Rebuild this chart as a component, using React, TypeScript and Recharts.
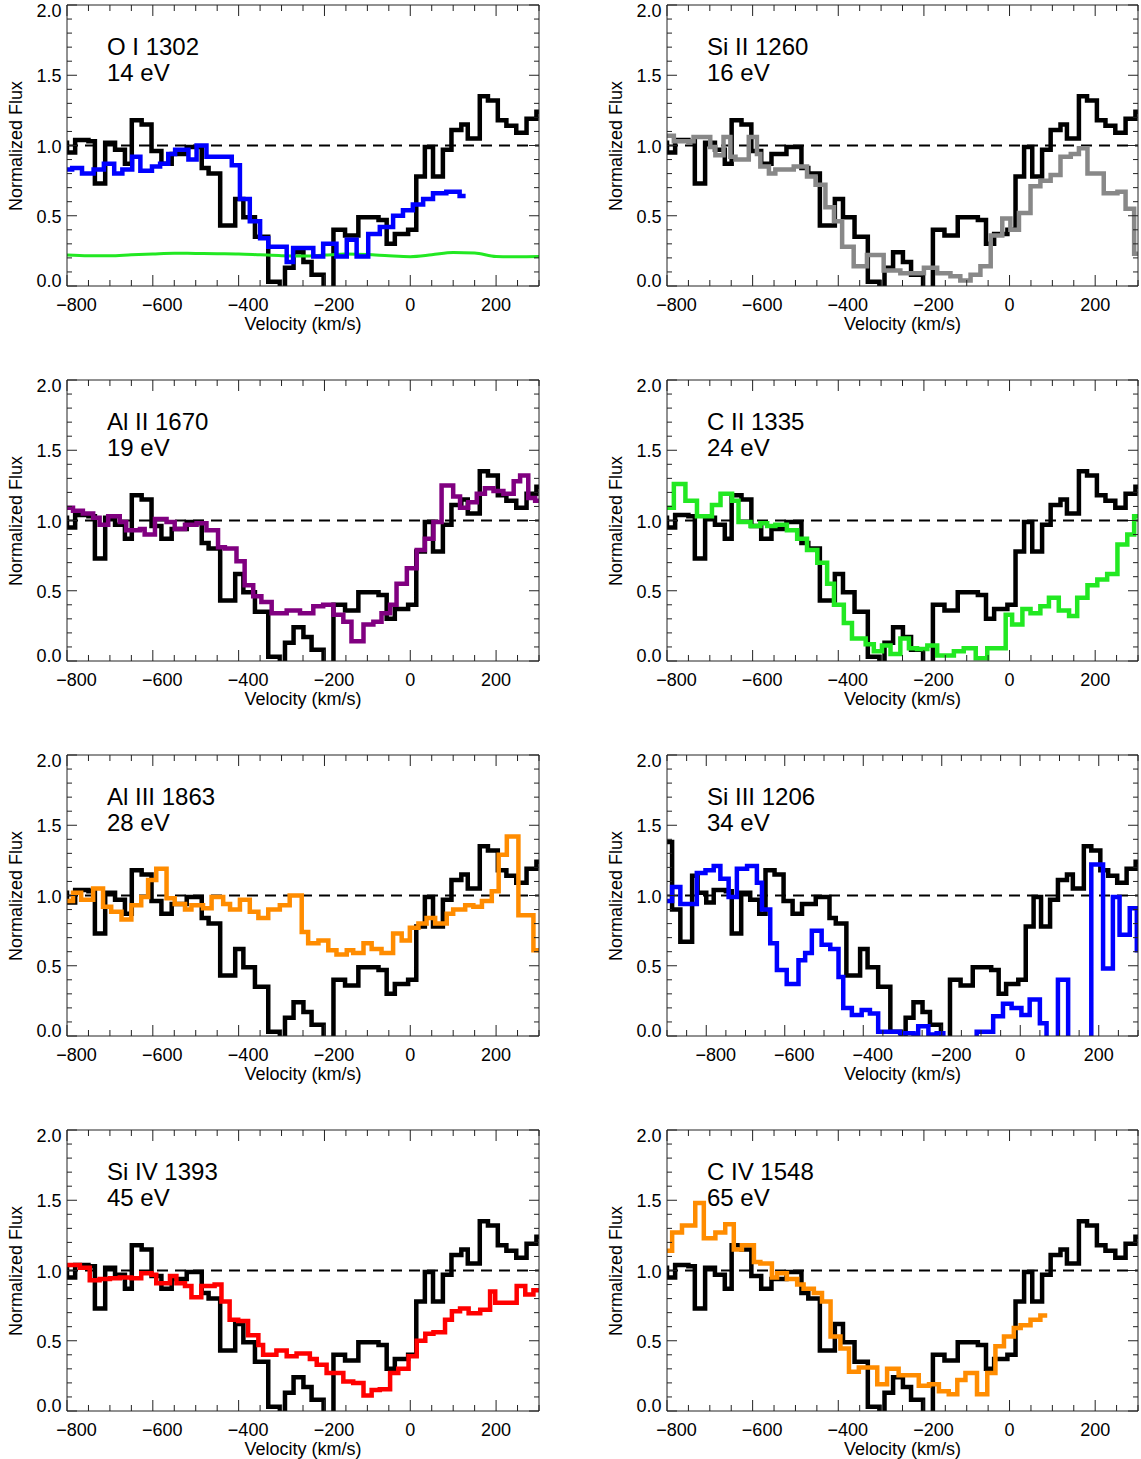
import React from "react";
import { LineChart, Line, XAxis, YAxis, ReferenceLine } from "recharts";

// comparison spectrum (black), drawn in every panel: left bin edge (km/s) and flux
const REF_V = [-900, -887, -866, -836, -822, -800, -781, -750, -735, -711, -688, -665, -649, -626, -603, -580, -556, -521, -486, -470, -443, -408, -389, -362, -331, -304, -292, -272, -249, -230, -202, -179, -152, -121, -74, -55, -36, -5, 14, 34, 53, 76, 96, 119, 134, 162, 181, 204, 224, 247, 271, 294, 300];
const REF_F = [1.38, 0.9, 0.67, 1.14, 1.02, 0.95, 1.04, 1.03, 0.73, 1.02, 0.97, 0.87, 1.18, 1.15, 0.96, 0.87, 0.94, 0.99, 0.84, 0.8, 0.43, 0.62, 0.49, 0.35, 0.03, -0.05, 0.13, 0.24, 0.17, 0.08, -0.05, 0.4, 0.36, 0.49, 0.47, 0.3, 0.37, 0.4, 0.78, 0.99, 0.78, 0.97, 1.11, 1.15, 1.05, 1.35, 1.32, 1.18, 1.14, 1.09, 1.19, 1.24, 1.24];

// O I 1302
const OI_V = [-800, -788, -765, -738, -714, -690, -671, -648, -629, -602, -583, -564, -548, -517, -498, -475, -416, -397, -374, -350, -331, -288, -273, -226, -203, -172, -148, -125, -98, -71, -40, -17, 6, 30, 53, 84, 115, 129];
const OI_F = [0.83, 0.84, 0.8, 0.83, 0.87, 0.8, 0.83, 0.92, 0.82, 0.85, 0.87, 0.94, 0.97, 0.9, 1.0, 0.92, 0.86, 0.62, 0.46, 0.34, 0.28, 0.17, 0.27, 0.21, 0.3, 0.21, 0.33, 0.21, 0.37, 0.42, 0.5, 0.54, 0.58, 0.62, 0.66, 0.67, 0.64, 0.64];
// O I error / sky level (green)
const OI_ERR_V = [-800, -750, -700, -650, -600, -550, -500, -450, -400, -350, -300, -250, -200, -150, -100, -50, 0, 50, 100, 150, 200, 250, 300];
const OI_ERR_F = [0.22, 0.215, 0.215, 0.222, 0.228, 0.233, 0.232, 0.23, 0.228, 0.222, 0.216, 0.214, 0.22, 0.227, 0.224, 0.215, 0.209, 0.222, 0.238, 0.235, 0.21, 0.208, 0.21];

// Si II 1260
const SI2_V = [-800, -784, -738, -699, -687, -668, -652, -640, -609, -590, -582, -562, -547, -504, -473, -453, -430, -410, -391, -364, -333, -294, -255, -200, -169, -138, -115, -91, -68, -44, -17, 2, 22, 49, 72, 96, 119, 143, 162, 182, 220, 252, 271, 291, 300];
const SI2_F = [1.07, 1.03, 1.06, 0.99, 0.93, 1.06, 0.92, 0.9, 1.06, 0.94, 0.85, 0.8, 0.83, 0.85, 0.78, 0.72, 0.56, 0.46, 0.28, 0.14, 0.22, 0.11, 0.09, 0.13, 0.09, 0.07, 0.04, 0.08, 0.14, 0.36, 0.48, 0.4, 0.52, 0.71, 0.75, 0.79, 0.92, 0.94, 0.98, 0.8, 0.66, 0.67, 0.55, 0.23, 0.23];

// Al II 1670
const AL2_V = [-800, -786, -763, -739, -724, -704, -677, -662, -630, -619, -595, -568, -549, -525, -498, -475, -448, -432, -405, -386, -366, -347, -323, -288, -257, -226, -203, -179, -156, -137, -109, -86, -67, -47, -32, -8, 15, 34, 54, 73, 100, 116, 135, 155, 174, 194, 217, 241, 256, 275, 291, 300];
const AL2_F = [1.09, 1.07, 1.05, 1.02, 0.97, 1.03, 0.99, 0.93, 0.94, 0.9, 1.01, 0.99, 0.94, 0.97, 0.98, 0.93, 0.81, 0.8, 0.71, 0.54, 0.46, 0.42, 0.34, 0.36, 0.34, 0.39, 0.4, 0.33, 0.28, 0.14, 0.26, 0.28, 0.34, 0.4, 0.55, 0.66, 0.79, 0.87, 0.99, 1.25, 1.17, 1.09, 1.13, 1.19, 1.23, 1.21, 1.19, 1.28, 1.32, 1.16, 1.14, 1.14];

// C II 1335
const C2_V = [-800, -784, -757, -730, -695, -675, -648, -633, -605, -582, -566, -547, -520, -496, -473, -449, -426, -410, -387, -368, -336, -317, -298, -278, -255, -235, -216, -192, -169, -130, -107, -79, -52, -9, 6, 30, 49, 72, 92, 115, 139, 158, 182, 205, 228, 252, 275, 291, 300];
const C2_F = [1.09, 1.26, 1.14, 1.03, 1.11, 1.19, 1.14, 0.99, 0.96, 0.98, 0.96, 0.97, 0.93, 0.87, 0.79, 0.7, 0.55, 0.4, 0.27, 0.16, 0.12, 0.07, 0.11, 0.05, 0.16, 0.09, 0.085, 0.11, 0.04, 0.07, 0.09, 0.02, 0.09, 0.33, 0.26, 0.37, 0.34, 0.39, 0.45, 0.36, 0.32, 0.45, 0.54, 0.58, 0.62, 0.83, 0.9, 1.03, 1.03];

// Al III 1863
const AL3_V = [-800, -786, -767, -739, -716, -697, -673, -650, -627, -611, -592, -568, -549, -525, -510, -483, -463, -436, -420, -397, -374, -354, -331, -304, -281, -253, -238, -214, -191, -172, -148, -133, -109, -90, -67, -40, -20, -1, 19, 38, 58, 85, 100, 128, 147, 167, 190, 206, 225, 252, 287, 300];
const AL3_F = [0.96, 1.02, 0.97, 1.05, 0.92, 0.885, 0.83, 0.93, 0.99, 1.11, 1.19, 0.98, 0.94, 0.9, 0.93, 0.91, 0.99, 0.94, 0.9, 0.97, 0.885, 0.84, 0.9, 0.93, 1.0, 0.74, 0.66, 0.68, 0.61, 0.58, 0.61, 0.59, 0.66, 0.62, 0.59, 0.73, 0.68, 0.77, 0.8, 0.84, 0.8, 0.87, 0.9, 0.93, 0.92, 0.96, 1.03, 1.29, 1.42, 0.86, 0.61, 0.61];

// Si III 1206
const SI3_V = [-900, -887, -866, -824, -802, -781, -764, -743, -722, -696, -671, -658, -637, -620, -595, -565, -548, -531, -506, -484, -463, -451, -429, -404, -383, -362, -336, -306, -272, -260, -234, -213, -196, -111, -69, -44, -22, 3, 24, 50, 67, 96, 122, 181, 211, 236, 253, 279, 297, 300];
const SI3_F = [0.96, 1.06, 0.94, 1.16, 1.18, 1.21, 1.12, 0.99, 1.19, 1.21, 1.09, 0.9, 0.66, 0.47, 0.37, 0.54, 0.59, 0.75, 0.65, 0.62, 0.42, 0.2, 0.15, 0.185, 0.16, 0.03, 0.03, 0.02, 0.01, 0.07, 0.01, 0.02, -0.1, 0.03, 0.14, 0.23, 0.2, 0.15, 0.26, 0.09, -0.1, 0.4, -0.1, 1.22, 0.48, 0.99, 0.72, 0.91, 0.61, 0.61];

// Si IV 1393
const SI4_V = [-800, -770, -747, -724, -700, -677, -650, -627, -603, -592, -560, -545, -525, -510, -487, -456, -440, -421, -401, -378, -354, -343, -312, -288, -265, -234, -218, -195, -156, -133, -109, -90, -71, -47, -28, -4, 15, 35, 54, 81, 97, 116, 136, 163, 186, 198, 248, 268, 287, 300];
const SI4_F = [1.04, 1.02, 0.93, 0.94, 0.945, 0.95, 0.945, 0.98, 0.97, 0.91, 0.96, 0.91, 0.89, 0.81, 0.89, 0.9, 0.78, 0.65, 0.64, 0.54, 0.47, 0.4, 0.43, 0.39, 0.41, 0.37, 0.33, 0.27, 0.21, 0.2, 0.11, 0.15, 0.155, 0.27, 0.3, 0.39, 0.5, 0.55, 0.56, 0.65, 0.71, 0.73, 0.695, 0.72, 0.85, 0.77, 0.89, 0.83, 0.86, 0.86];

// C IV 1548
const C4_V = [-800, -788, -765, -734, -714, -687, -664, -644, -625, -597, -582, -555, -543, -520, -496, -481, -457, -438, -418, -395, -375, -352, -309, -286, -259, -212, -188, -165, -142, -122, -103, -76, -52, -33, -13, 10, 26, 49, 72, 88];
const C4_F = [1.14, 1.27, 1.32, 1.48, 1.23, 1.27, 1.33, 1.15, 1.18, 1.06, 1.05, 0.95, 0.98, 0.94, 0.9, 0.87, 0.84, 0.78, 0.53, 0.445, 0.28, 0.31, 0.19, 0.3, 0.255, 0.18, 0.19, 0.14, 0.12, 0.22, 0.27, 0.12, 0.27, 0.46, 0.53, 0.59, 0.61, 0.65, 0.68, 0.68];

// axis ticks and labels
const X_MAJOR = [-800, -600, -400, -200, 0, 200];
const X_LABELS = ["\u2212800", "\u2212600", "\u2212400", "\u2212200", "0", "200"];
const Y_MAJOR = [0, 0.5, 1, 1.5, 2];
const Y_LABELS = ["0.0", "0.5", "1.0", "1.5", "2.0"];

const FONT = '"Liberation Sans", Arial, Helvetica, sans-serif';
const AXIS = "#222";

const rows = (v: number[], f: number[]) => v.map((x, i) => ({ v: x, f: f[i] }));
const REF_ROWS = rows(REF_V, REF_F);

const PANELS = [
  { title: "O I 1302", ev: "14 eV", xMin: -800, lines: [
    { data: rows(OI_ERR_V, OI_ERR_F), color: "#22e822", smooth: true },
    { data: rows(OI_V, OI_F), color: "#0000ff" },
  ] },
  { title: "Si II 1260", ev: "16 eV", xMin: -800, lines: [{ data: rows(SI2_V, SI2_F), color: "#888888" }] },
  { title: "Al II 1670", ev: "19 eV", xMin: -800, lines: [{ data: rows(AL2_V, AL2_F), color: "#800080" }] },
  { title: "C II 1335", ev: "24 eV", xMin: -800, lines: [{ data: rows(C2_V, C2_F), color: "#22e822" }] },
  { title: "Al III 1863", ev: "28 eV", xMin: -800, lines: [{ data: rows(AL3_V, AL3_F), color: "#ff8c00" }] },
  { title: "Si III 1206", ev: "34 eV", xMin: -900, lines: [{ data: rows(SI3_V, SI3_F), color: "#0000ff" }] },
  { title: "Si IV 1393", ev: "45 eV", xMin: -800, lines: [{ data: rows(SI4_V, SI4_F), color: "#ff0000" }] },
  { title: "C IV 1548", ev: "65 eV", xMin: -800, lines: [{ data: rows(C4_V, C4_F), color: "#ff8c00" }] },
];

const steps = (a: number, b: number, s: number) => {
  const out: number[] = [];
  for (let x = a; x <= b; x += s) out.push(x);
  return out;
};
const Y_TICKS = steps(0, 20, 1).map((i) => i / 10);

const isMajorY = (v: number) => Math.round(v * 10) % 5 === 0;

const BottomTick = (props: any) => {
  const { x, y, payload } = props;
  const v = payload.value;
  const i = X_MAJOR.indexOf(v);
  return (
    <g>
      <line x1={x} x2={x} y1={y} y2={y - (i >= 0 ? 11 : 6)} stroke={AXIS} strokeWidth={1} />
      {i >= 0 && (
        <text x={x + (v < 0 ? 9.5 : 0)} y={y + 25} textAnchor="middle" fontSize={18} fontFamily={FONT} fill="#000">
          {X_LABELS[i]}
        </text>
      )}
    </g>
  );
};

const TopTick = (props: any) => {
  const { x, y, payload } = props;
  const major = X_MAJOR.indexOf(payload.value) >= 0;
  return <line x1={x} x2={x} y1={y} y2={y + (major ? 11 : 6)} stroke={AXIS} strokeWidth={1} />;
};

const LeftTick = (props: any) => {
  const { x, y, payload } = props;
  const v = payload.value;
  const i = Y_MAJOR.indexOf(v);
  const dy = v === 2 ? 12.3 : v === 0 ? 1.3 : 7;
  return (
    <g>
      <line x1={x} x2={x + (isMajorY(v) ? 10 : 5)} y1={y} y2={y} stroke={AXIS} strokeWidth={1} />
      {i >= 0 && (
        <text x={x - 5.5} y={y + dy} textAnchor="end" fontSize={18} fontFamily={FONT} fill="#000">
          {Y_LABELS[i]}
        </text>
      )}
    </g>
  );
};

const RightTick = (props: any) => {
  const { x, y, payload } = props;
  return <line x1={x} x2={x - (isMajorY(payload.value) ? 10 : 5)} y1={y} y2={y} stroke={AXIS} strokeWidth={1} />;
};

function Panel({ cfg, row, col }: { cfg: any; row: number; col: number }) {
  const plotLeft = col === 0 ? 67 : 667;
  const plotW = col === 0 ? 472 : 471;
  const rightPad = col === 0 ? 9 : 2;
  const chartTop = row * 375;
  const plotTop = chartTop + 5;
  const plotH = 281;
  const domain = [cfg.xMin, 300];
  const xTicks = steps(cfg.xMin, 300, 50);

  return (
    <>
      <div style={{ position: "absolute", left: plotLeft - 67, top: chartTop }}>
        <LineChart
          width={67 + plotW + 1 + rightPad}
          height={340}
          margin={{ top: 4, right: rightPad, bottom: 0, left: 0 }}
        >
          <XAxis
            type="number"
            dataKey="v"
            domain={domain}
            allowDataOverflow
            ticks={xTicks}
            interval={0}
            tickSize={0}
            tickMargin={0}
            tickLine={false}
            height={54}
            axisLine={{ stroke: AXIS }}
            tick={BottomTick}
          />
          <XAxis
            xAxisId="top"
            orientation="top"
            type="number"
            dataKey="v"
            domain={domain}
            allowDataOverflow
            ticks={xTicks}
            interval={0}
            tickSize={0}
            tickMargin={0}
            tickLine={false}
            height={1}
            axisLine={{ stroke: AXIS }}
            tick={TopTick}
          />
          <YAxis
            type="number"
            domain={[0, 2]}
            allowDataOverflow
            ticks={Y_TICKS}
            interval={0}
            tickSize={0}
            tickMargin={0}
            tickLine={false}
            width={67}
            axisLine={{ stroke: AXIS }}
            tick={LeftTick}
          />
          <YAxis
            yAxisId="right"
            orientation="right"
            type="number"
            domain={[0, 2]}
            allowDataOverflow
            ticks={Y_TICKS}
            interval={0}
            tickSize={0}
            tickMargin={0}
            tickLine={false}
            width={1}
            axisLine={{ stroke: AXIS }}
            tick={RightTick}
          />
          <ReferenceLine y={1} stroke="#000" strokeWidth={2} strokeDasharray="11 7" />
          <Line
            data={REF_ROWS}
            dataKey="f"
            type="stepAfter"
            stroke="#000"
            strokeWidth={4.5}
            dot={false}
            activeDot={false}
            isAnimationActive={false}
          />
          {cfg.lines.map((l: any, k: number) => (
            <Line
              key={k}
              data={l.data}
              dataKey="f"
              type={l.smooth ? "monotone" : "stepAfter"}
              stroke={l.color}
              strokeWidth={l.smooth ? 3 : 4.5}
              dot={false}
              activeDot={false}
              isAnimationActive={false}
            />
          ))}
        </LineChart>
      </div>
      <div
        style={{
          position: "absolute",
          left: plotLeft + 40,
          top: plotTop + 28.7,
          fontSize: 24,
          lineHeight: "26px",
          whiteSpace: "pre",
          color: "#000",
        }}
      >
        {cfg.title + "\n" + cfg.ev}
      </div>
      <div
        style={{
          position: "absolute",
          left: plotLeft + plotW / 2 - 100,
          top: plotTop + plotH + 27,
          width: 200,
          textAlign: "center",
          fontSize: 18,
          lineHeight: "22px",
        }}
      >
        Velocity (km/s)
      </div>
      <div
        style={{
          position: "absolute",
          left: plotLeft - 51 - 100,
          top: plotTop + plotH / 2 - 11,
          width: 200,
          height: 22,
          textAlign: "center",
          fontSize: 18,
          lineHeight: "22px",
          transform: "rotate(-90deg)",
        }}
      >
        Normalized Flux
      </div>
    </>
  );
}

export default function App() {
  return (
    <div
      style={{
        position: "absolute",
        left: 0,
        top: 0,
        width: 1141,
        height: 1459,
        overflow: "hidden",
        background: "#fff",
        fontFamily: FONT,
      }}
    >
      {PANELS.map((p, i) => (
        <Panel key={i} cfg={p} row={Math.floor(i / 2)} col={i % 2} />
      ))}
    </div>
  );
}
